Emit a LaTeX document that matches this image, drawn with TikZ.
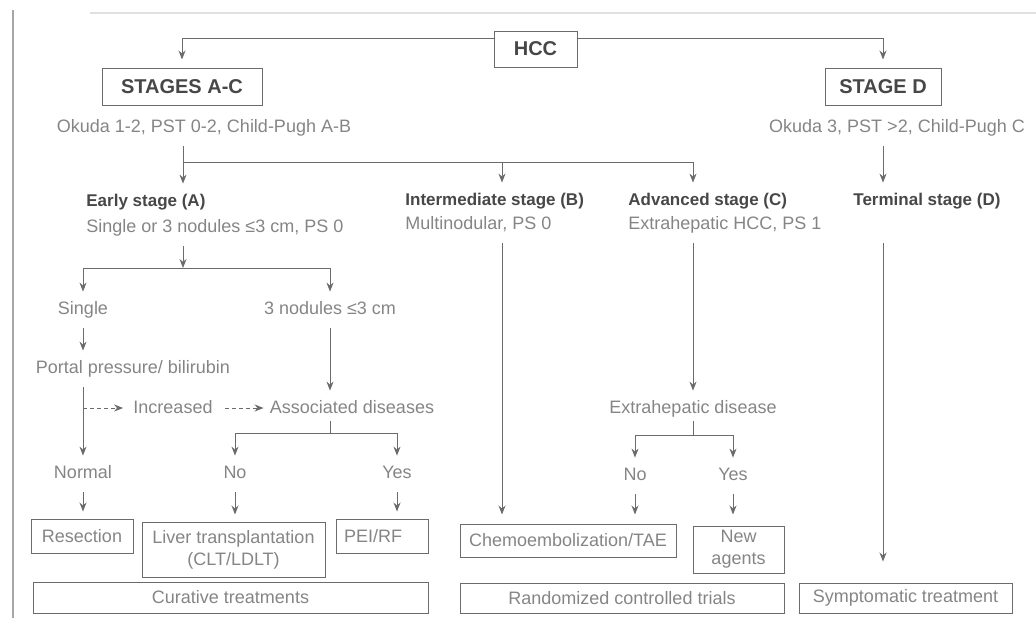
\documentclass[tikz,border=0pt]{standalone}
\usepackage{fontspec}
\setmainfont{Liberation Sans}
\usetikzlibrary{arrows.meta,positioning}
\definecolor{linegray}{gray}{0.42}
\definecolor{textgray}{gray}{0.52}
\definecolor{headgray}{gray}{0.28}
\begin{document}
\begin{tikzpicture}[x=0.5pt, y=-0.5pt,
boxnode/.style={rectangle, draw=linegray, line width=0.5pt, text=textgray, font=\fontsize{9}{11}\selectfont, align=center, inner sep=1.5pt},
stagenode/.style={boxnode, text=headgray, font=\fontsize{10}{12}\selectfont\bfseries},
txtnode/.style={text=textgray, font=\fontsize{9}{11}\selectfont, text height=7pt, text depth=2pt, inner sep=2pt},
headnode/.style={txtnode, text=headgray, font=\fontsize{8.5}{10}\selectfont\bfseries},
conn/.style={draw=linegray, line width=0.5pt},
arr/.style={conn, -{Stealth[length=4.5pt,width=3.5pt]}},
dasharr/.style={arr, dash pattern=on 2pt off 1.5pt},
]
\useasboundingbox (0,0) rectangle (1036,627);
%Frame
\draw[black!35, line width=0.6pt] (13,10) -- (13,618);
\draw[black!12, line width=0.6pt] (90,13) -- (1036,13);

%Nodes
\node[stagenode, minimum width=41.5pt, minimum height=18pt] (hcc) at (535.5,49) {HCC};
\node[stagenode, minimum width=80pt, minimum height=18.5pt] (stagesac) at (182,86.5) {STAGES A-C};
\node[stagenode, minimum width=58pt, minimum height=18.5pt] (staged) at (883,86.5) {STAGE D};
\node[txtnode] (okudaac) at (204,127) {Okuda 1-2, PST 0-2, Child-Pugh A-B};
\node[txtnode] (okudad) at (897,127) {Okuda 3, PST >2, Child-Pugh C};

\node[headnode, anchor=west] (early) at (82,201) {Early stage (A)};
\node[txtnode, anchor=west] (earlydesc) at (82,227) {Single or 3 nodules ≤3 cm, PS 0};
\node[headnode, anchor=west] (inter) at (401,200) {Intermediate stage (B)};
\node[txtnode, anchor=west] (interdesc) at (401,224) {Multinodular, PS 0};
\node[headnode, anchor=west] (adv) at (624,200) {Advanced stage (C)};
\node[txtnode, anchor=west] (advdesc) at (624,224) {Extrahepatic HCC, PS 1};
\node[headnode, anchor=west] (term) at (849,200) {Terminal stage (D)};

\node[txtnode] (single) at (83,309) {Single};
\node[txtnode] (threenod) at (330,309) {3 nodules ≤3 cm};
\node[txtnode] (portal) at (133,368) {Portal pressure/ bilirubin};
\node[txtnode] (increased) at (173,408) {Increased};
\node[txtnode] (assoc) at (352,408) {Associated diseases};
\node[txtnode] (normal) at (83,473) {Normal};
\node[txtnode] (noa) at (235,473) {No};
\node[txtnode] (yesa) at (397,473) {Yes};
\node[txtnode] (extra) at (693,408) {Extrahepatic disease};
\node[txtnode] (nob) at (635,475) {No};
\node[txtnode] (yesb) at (733,475) {Yes};

\node[boxnode, minimum width=51pt, minimum height=17pt] (resection) at (82,536) {Resection};
\node[boxnode, minimum width=91.5pt, minimum height=27.5pt] (liver) at (233.5,549.5) {Liver transplantation\\(CLT/LDLT)};
\node[boxnode, text width=38pt, inner sep=4pt, align=left, minimum height=17pt] (peirf) at (382,536) {PEI/RF};
\node[boxnode, minimum width=197.5pt, minimum height=15.5pt] (curative) at (230.5,597.5) {Curative treatments};
\node[boxnode, minimum width=108pt, minimum height=16.5pt] (chemo) at (568,540.5) {Chemoembolization/TAE};
\node[boxnode, minimum width=45.5pt, minimum height=23.5pt] (newag) at (738.5,549.5) {New\\agents};
\node[boxnode, minimum width=162pt, minimum height=15pt] (rct) at (622,598) {Randomized controlled trials};
\node[boxnode, minimum width=106.5pt, minimum height=15pt] (sympt) at (905.5,598) {Symptomatic treatment};

%Junctions
\coordinate (ja) at (183,162);
\coordinate (jb) at (502,162);
\coordinate (jc) at (693,162);
\coordinate (je) at (183,268);
\coordinate (jd) at (330,433);
\coordinate (jf) at (693,435);

%Lines
\draw[arr, shorten >=4pt] ([yshift=5.5pt]hcc.west) -| (stagesac.north);
\draw[arr, shorten >=4pt] ([yshift=5.5pt]hcc.east) -| (staged.north);

\draw[arr, shorten <=3pt, shorten >=2pt] (okudaac.south -| ja) -- (ja |- early.north);
\draw[conn] (ja) -- (jc);
\draw[arr, shorten >=2pt] (jb) -- (jb |- inter.north);
\draw[arr, shorten >=2pt] (jc) -- (jc |- adv.north);
\draw[arr, shorten <=3pt, shorten >=2pt] (okudad.south -| staged) -- (staged |- term.north);

\draw[arr, shorten <=3pt] (earlydesc.south -| je) -- (je);
\draw[arr, shorten >=2pt] (je) -| (single.north);
\draw[arr, shorten >=2pt] (je) -| (threenod.north);
\draw[arr, shorten <=3pt, shorten >=2pt] (single.south) -- (single.south |- portal.north);
\draw[arr, shorten <=3pt, shorten >=2pt] (portal.south -| single) -- (normal.north);
\draw[dasharr, shorten >=3pt] (increased.west -| single) -- (increased.west);
\draw[dasharr, shorten <=4pt, shorten >=1pt] (increased.east) -- (assoc.west);
\draw[arr, shorten <=3pt, shorten >=2pt] (threenod.south) -- (threenod.south |- assoc.north);
\draw[conn] (assoc.south -| jd) -- (jd);
\draw[arr, shorten >=2pt] (jd) -| (noa.north);
\draw[arr, shorten >=2pt] (jd) -| (yesa.north);
\draw[arr, shorten <=3pt, shorten >=3.5pt] (normal.south) -- (normal.south |- resection.north);
\draw[arr, shorten <=3pt, shorten >=3.5pt] (noa.south) -- (noa.south |- liver.north);
\draw[arr, shorten <=3pt, shorten >=3.5pt] (yesa.south) -- (yesa.south |- peirf.north);

\draw[arr, shorten <=3pt, shorten >=4.5pt] (interdesc.south -| jb) -- (jb |- chemo.north);
\draw[arr, shorten <=3pt, shorten >=2pt] (advdesc.south -| jc) -- (extra.north);
\draw[conn] (extra.south) -- (jf);
\draw[arr, shorten >=2pt] (jf) -| (nob.north);
\draw[arr, shorten >=2pt] (jf) -| (yesb.north);
\draw[arr, shorten <=3pt, shorten >=4.5pt] (nob.south) -- (nob.south |- chemo.north);
\draw[arr, shorten <=3pt, shorten >=5.5pt] (yesb.south) -- (yesb.south |- newag.north);
\draw[arr, shorten <=3pt, shorten >=10.5pt] (staged |- interdesc.south) -- (staged |- sympt.north);

\end{tikzpicture}
\end{document}
